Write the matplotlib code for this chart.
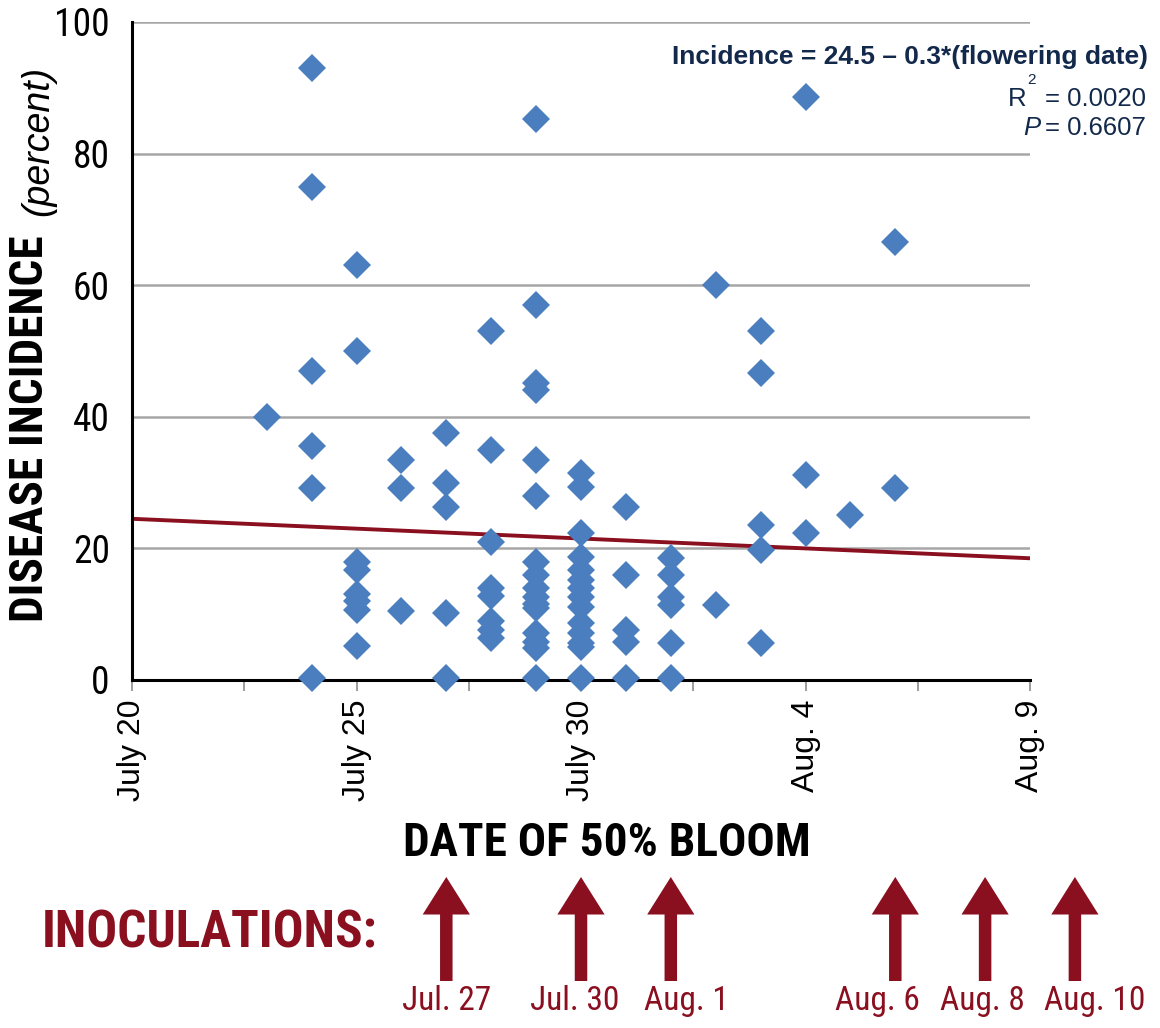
import matplotlib
matplotlib.use("Agg")
import matplotlib.pyplot as plt
from matplotlib import transforms, font_manager
from matplotlib.ticker import MultipleLocator, FixedLocator, FixedFormatter

# days after July 20 and disease incidence (percent)
days = (
    [3]
    + [4] * 6
    + [5] * 8
    + [6] * 3
    + [7] * 5
    + [8] * 8
    + [9] * 16
    + [10] * 14
    + [11] * 5
    + [12] * 6
    + [13] * 2
    + [14] * 5
    + [15] * 3
    + [16]
    + [17] * 2
)
incidence = (
    [40]
    + [93, 75, 47, 35.5, 29.2, 0.3]
    + [63, 50, 17.9, 16.7, 13, 12, 10.6, 5.2]
    + [33.4, 29.2, 10.5]
    + [37.5, 30, 26.3, 10.2, 0.3]
    + [53, 35, 21, 14, 12.8, 9, 7.6, 6.4]
    + [85.3, 57, 45.1, 44.1, 33.4, 28, 18, 16, 14, 12.6, 11.6, 11, 7.1, 5.8, 4.9, 0.3]
    + [31.4, 29.3, 22.4, 18.7, 16.7, 15.2, 14, 12.6, 11.1, 8.7, 7.1, 5.6, 5, 0.3]
    + [26.3, 16, 7.6, 5.8, 0.3]
    + [18.5, 16, 12.6, 11.4, 5.6, 0.3]
    + [60, 11.4]
    + [53, 46.6, 23.5, 19.8, 5.6]
    + [88.6, 31.2, 22.3]
    + [25.1]
    + [66.6, 29.2]
)

fit_intercept = 24.5
fit_slope = -0.3
fit_x = [0, 20]

tick_days = [0, 5, 10, 15, 20]
tick_labels = ["July 20", "July 25", "July 30", "Aug. 4", "Aug. 9"]

inoc_days = [7, 10, 12, 17, 19, 21]
inoc_labels = ["Jul. 27", "Jul. 30", "Aug. 1", "Aug. 6", "Aug. 8", "Aug. 10"]
inoc_label_x = [7.0, 9.85, 12.35, 16.6, 18.95, 21.45]  # label placement (days)

BLUE = "#4A7EBF"
RED = "#8A0F1F"
NAVY = "#13294B"
SANS = ["Liberation Sans", "DejaVu Sans"]

installed = {f.name for f in font_manager.fontManager.ttflist}
NARROW = None
for name in ["Liberation Sans Narrow", "Arial Narrow", "Roboto Condensed",
             "Archivo Narrow", "PT Sans Narrow", "Barlow Condensed"]:
    if name in installed:
        NARROW = [name, "DejaVu Sans"]
        break
if NARROW is None:
    NARROW = SANS

W, H = 1160, 1028
fig = plt.figure(figsize=(W / 100, H / 100), dpi=100)


def fx(x):
    return x / W


def fy(y):
    return 1 - y / H


ax = fig.add_axes([fx(132), fy(680), fx(1030) - fx(132), fy(22) - fy(680)])
ax.set_xlim(0, 20)
ax.set_ylim(0, 100)

for yv in [20, 40, 60, 80, 100]:
    ax.axhline(yv, color="#a6a6a6", lw=1.8, zorder=1)

ax.plot(fit_x, [fit_intercept + fit_slope * x for x in fit_x], color=RED, lw=2.8, zorder=2)
ax.plot(days, incidence, ls="none", marker="D", ms=14, color=BLUE, mew=0,
        zorder=5, clip_on=False)

for side in ["top", "right"]:
    ax.spines[side].set_visible(False)
ax.spines["left"].set_linewidth(2.2)
ax.spines["bottom"].set_linewidth(2.2)

ax.xaxis.set_major_locator(FixedLocator(tick_days))
ax.xaxis.set_major_formatter(FixedFormatter(tick_labels))
ax.xaxis.set_minor_locator(MultipleLocator(2.5))
ax.tick_params(axis="x", which="both", direction="out", length=8, width=1.2,
               color="#8c8c8c", pad=6)
for lab in ax.get_xticklabels():
    lab.set_rotation(90)
    lab.set_fontsize(23)
    lab.set_family(SANS)
    lab.set_va("top")

ax.yaxis.set_major_locator(MultipleLocator(20))
ax.tick_params(axis="y", length=0, pad=16)
for lab in ax.get_yticklabels():
    lab.set_fontsize(27)
    lab.set_family(NARROW)

# axis titles
fig.text(fx(30), fy(622), "DISEASE INCIDENCE", rotation=90, ha="center", va="bottom",
         fontsize=34, fontweight="bold", family=NARROW)
fig.text(fx(38), fy(216), "(percent)", rotation=90, ha="center", va="bottom",
         fontsize=27, style="italic", family=SANS)
fig.text(fx(607), fy(843), "DATE OF 50% BLOOM", ha="center", va="center",
         fontsize=34, fontweight="bold", family=NARROW)

# regression annotation
fig.text(fx(1148), fy(57), "Incidence = 24.5 \u2013 0.3*(flowering date)", ha="right",
         va="center", fontsize=19, fontweight="bold", color=NAVY, family=SANS)
fig.text(fx(1146), fy(99), "= 0.0020", ha="right", va="center", fontsize=18.5,
         color=NAVY, family=SANS)
fig.text(fx(1026), fy(99), "R", ha="right", va="center", fontsize=18.5,
         color=NAVY, family=SANS)
fig.text(fx(1032), fy(80), "2", ha="center", va="center", fontsize=11,
         color=NAVY, family=SANS)
fig.text(fx(1146), fy(128), "= 0.6607", ha="right", va="center", fontsize=18.5,
         color=NAVY, family=SANS)
fig.text(fx(1040), fy(128), "P", ha="right", va="center", fontsize=18.5, style="italic",
         color=NAVY, family=SANS)

# inoculation arrows
fig.text(fx(210), fy(933), "INOCULATIONS:", ha="center", va="center", fontsize=37,
         fontweight="bold", color=RED, family=NARROW)
trans = transforms.blended_transform_factory(ax.transData, fig.transFigure)
for d in inoc_days:
    ax.annotate("", xy=(d, fy(877)), xytext=(d, fy(981)), xycoords=trans,
                textcoords=trans, annotation_clip=False,
                arrowprops=dict(arrowstyle="simple,head_width=34,head_length=27,tail_width=9",
                                mutation_scale=1, color=RED, shrinkA=0, shrinkB=0, lw=0))
for xl, lab in zip(inoc_label_x, inoc_labels):
    ax.text(xl, fy(1001), lab, transform=trans, ha="center", va="center", fontsize=24,
            color=RED, family=NARROW, clip_on=False)

fig.savefig("out.png", dpi=100)
